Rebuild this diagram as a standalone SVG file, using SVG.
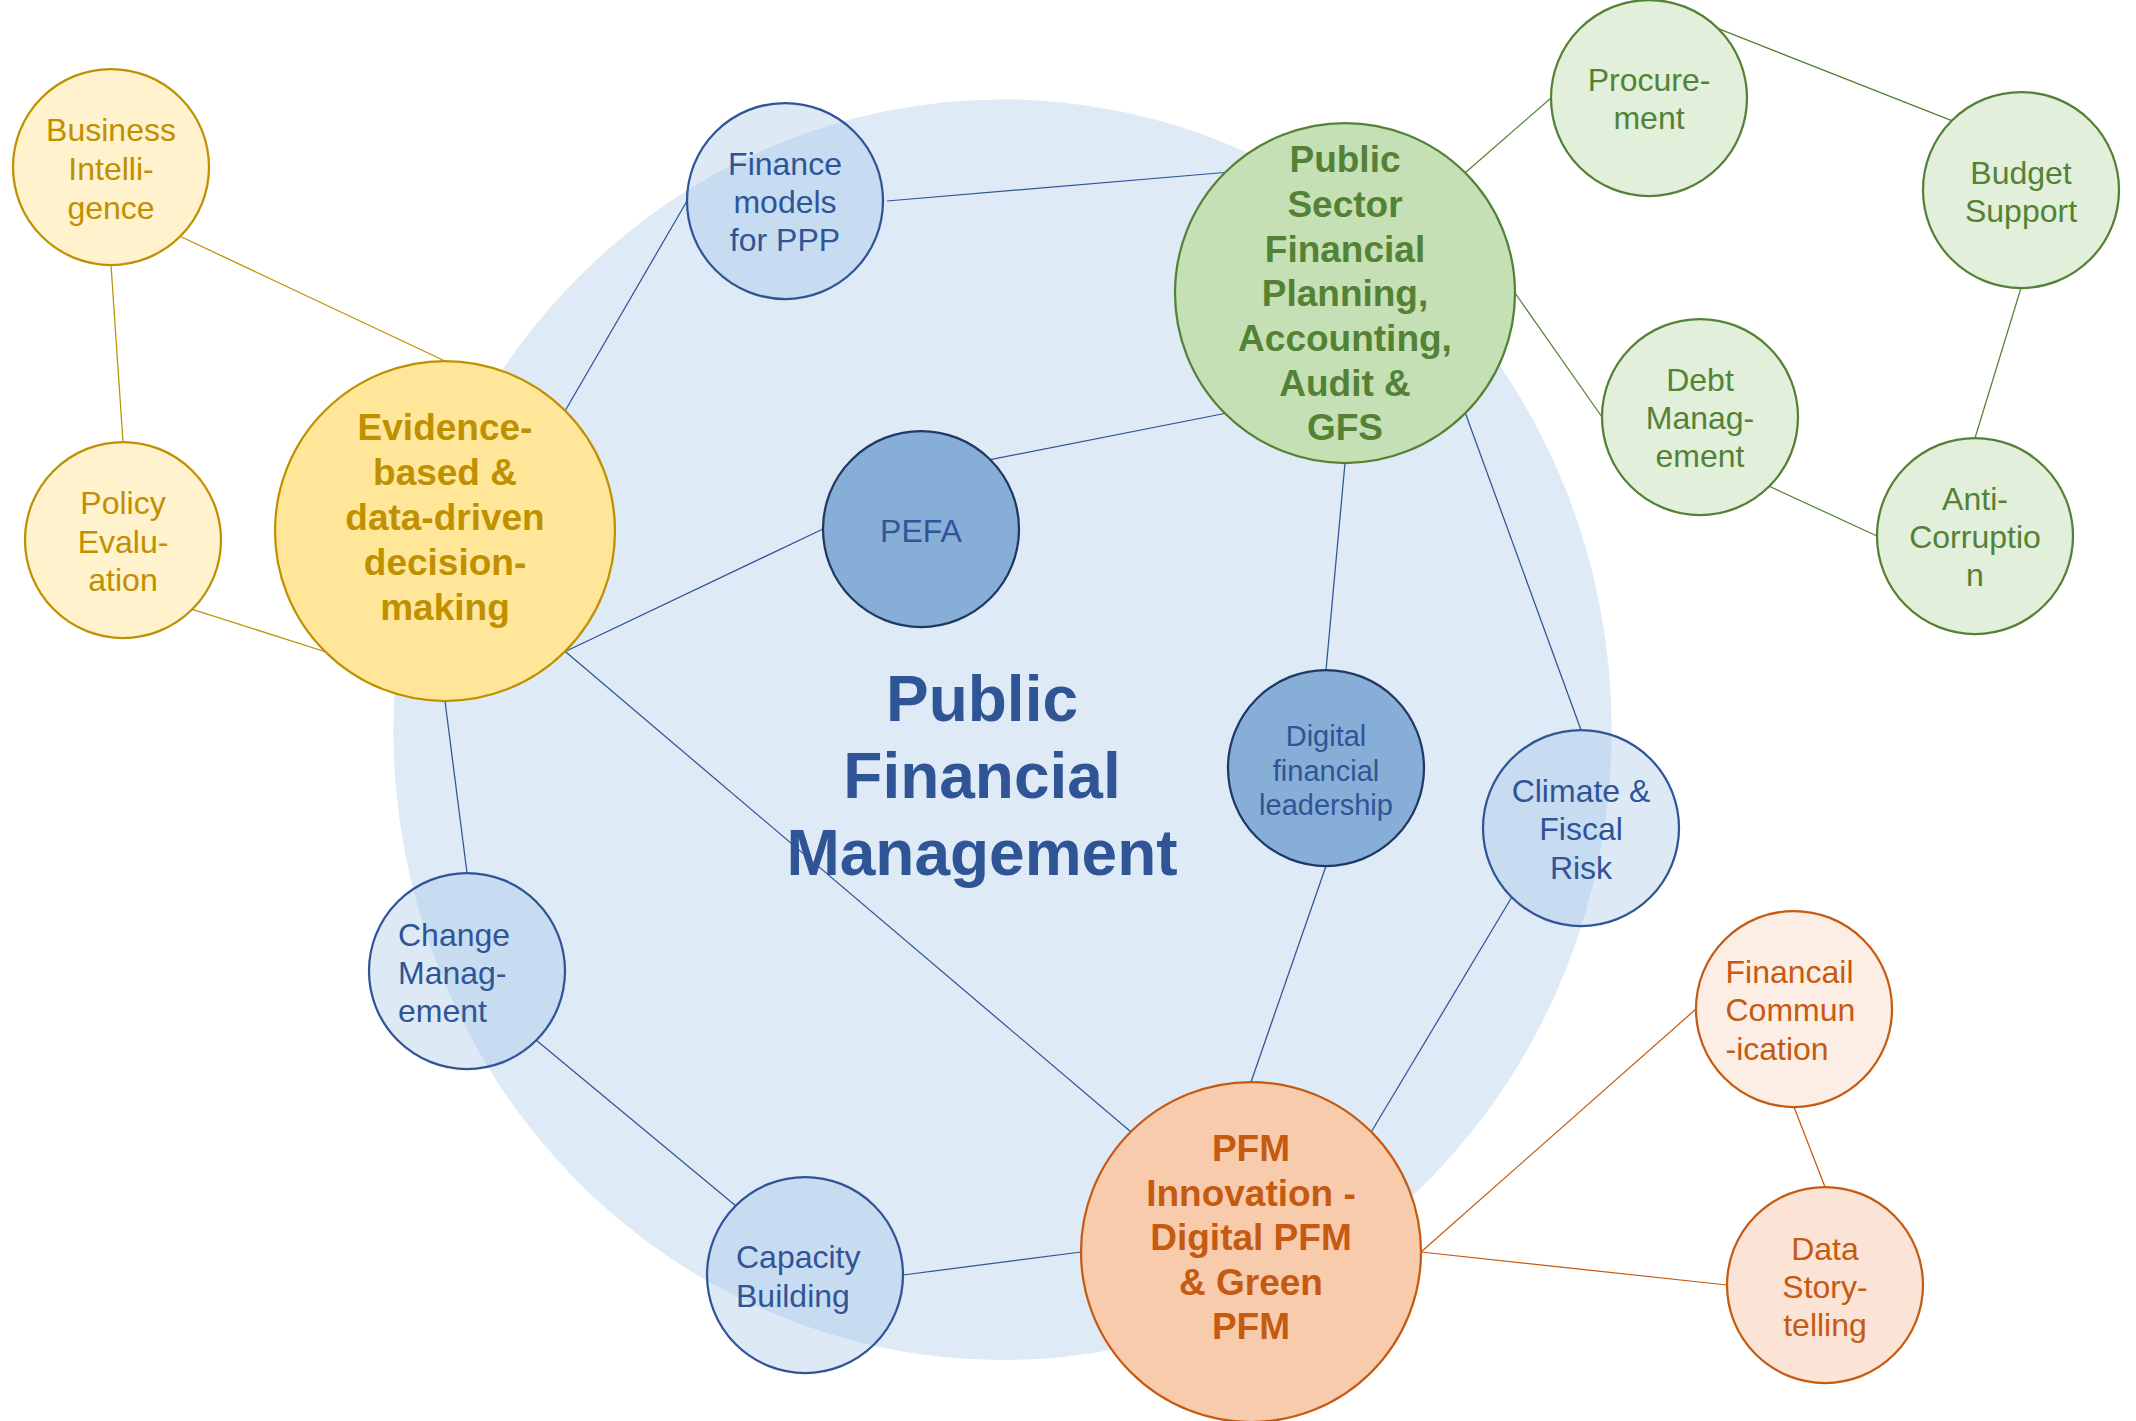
<svg xmlns="http://www.w3.org/2000/svg" width="2136" height="1421" viewBox="0 0 2136 1421">
<style>
text{font-family:"Liberation Sans",Arial,sans-serif}
.sm{font-size:32px}
.bg{font-size:37px;font-weight:bold}
.c{text-anchor:middle}
.l{text-anchor:start}
.tb{fill:#2F5597}
.ty{fill:#BF9000}
.tg{fill:#548235}
.to{fill:#C55A11}
.nb{fill:#9DC3E6;fill-opacity:0.35;stroke:#2F5597;stroke-width:2.25}
.nd{fill:#87AED6;stroke:#1F3864;stroke-width:2.25}
.ny{fill:#FFF2CC;stroke:#BF9000;stroke-width:2.25}
.nY{fill:#FFE699;stroke:#BF9000;stroke-width:2.25}
.ng{fill:#E2EFDA;stroke:#548235;stroke-width:2.25}
.nG{fill:#C5E0B4;stroke:#548235;stroke-width:2.25}
.no{fill:#F8CBAD;stroke:#C55A11;stroke-width:2.25}
.lb{stroke:#2F5597;stroke-width:1.25;fill:none}
.ly{stroke:#BF9000;stroke-width:1.25;fill:none}
.lg{stroke:#548235;stroke-width:1.25;fill:none}
.lo{stroke:#C55A11;stroke-width:1.25;fill:none}
</style>
<rect width="2136" height="1421" fill="#FFFFFF"/>
<g id="pfm-background">
<ellipse cx="1002.5" cy="729.7" rx="609.2" ry="630.3" fill="#DEEAF6"/>
<text x="982" y="721" class="c tb" style="font-size:64px;font-weight:bold">Public</text>
<text x="982" y="798" class="c tb" style="font-size:64px;font-weight:bold">Financial</text>
<text x="982" y="875" class="c tb" style="font-size:64px;font-weight:bold">Management</text>
</g>
<g id="connectors">
<line class="ly" x1="181.6" y1="237" x2="445" y2="361"/>
<line class="ly" x1="111" y1="265" x2="123" y2="442"/>
<line class="ly" x1="192.3" y1="609.3" x2="324.5" y2="651.5"/>
<line class="lb" x1="687" y1="201" x2="565.3" y2="410.5"/>
<line class="lb" x1="887" y1="201" x2="1224.5" y2="172.5"/>
<line class="lb" x1="565.3" y1="651.5" x2="823" y2="529"/>
<line class="lb" x1="565.3" y1="651.5" x2="1130.5" y2="1131.5"/>
<line class="lb" x1="445" y1="701" x2="467" y2="873"/>
<line class="lb" x1="536.3" y1="1040.3" x2="735.7" y2="1205.7"/>
<line class="lb" x1="903" y1="1275" x2="1081" y2="1252"/>
<line class="lb" x1="990.3" y1="459.7" x2="1224.5" y2="413.5"/>
<line class="lb" x1="1345" y1="463" x2="1326" y2="670"/>
<line class="lb" x1="1465.5" y1="413.5" x2="1581" y2="730"/>
<line class="lb" x1="1326" y1="866" x2="1251" y2="1082"/>
<line class="lb" x1="1511.7" y1="897.3" x2="1371.5" y2="1131.5"/>
<line class="lg" x1="1465.5" y1="172.5" x2="1551" y2="98"/>
<line class="lg" x1="1718.3" y1="28.7" x2="1951.7" y2="120.7"/>
<line class="lg" x1="1515" y1="293" x2="1602" y2="417"/>
<line class="lg" x1="2021" y1="288" x2="1975" y2="438"/>
<line class="lg" x1="1769.3" y1="486.3" x2="1877" y2="536"/>
<line class="lo" x1="1421" y1="1252" x2="1696" y2="1009"/>
<line class="lo" x1="1421" y1="1252" x2="1727" y2="1285"/>
<line class="lo" x1="1794" y1="1107" x2="1825" y2="1187"/>
</g>
<g id="node-business-intelligence">
<circle class="ny" cx="111" cy="167" r="98"/>
<text class="sm c ty" x="111" y="141">Business</text>
<text class="sm c ty" x="111" y="180">Intelli-</text>
<text class="sm c ty" x="111" y="218.5">gence</text>
</g>
<g id="node-policy-evaluation">
<circle class="ny" cx="123" cy="540" r="98"/>
<text class="sm c ty" x="123" y="514">Policy</text>
<text class="sm c ty" x="123" y="552.5">Evalu-</text>
<text class="sm c ty" x="123" y="591">ation</text>
</g>
<g id="node-evidence">
<circle class="nY" cx="445" cy="531" r="170"/>
<text class="bg c ty" x="445" y="440">Evidence-</text>
<text class="bg c ty" x="445" y="485">based &amp;</text>
<text class="bg c ty" x="445" y="530">data-driven</text>
<text class="bg c ty" x="445" y="574.5">decision-</text>
<text class="bg c ty" x="445" y="619.5">making</text>
</g>
<g id="node-finance-models">
<circle class="nb" cx="785" cy="201" r="98"/>
<text class="sm c tb" x="785" y="174.5">Finance</text>
<text class="sm c tb" x="785" y="213">models</text>
<text class="sm c tb" x="785" y="251">for PPP</text>
</g>
<g id="node-psfp">
<circle class="nG" cx="1345" cy="293" r="170"/>
<text class="bg c tg" x="1345" y="172">Public</text>
<text class="bg c tg" x="1345" y="216.5">Sector</text>
<text class="bg c tg" x="1345" y="261.5">Financial</text>
<text class="bg c tg" x="1345" y="306">Planning,</text>
<text class="bg c tg" x="1345" y="351">Accounting,</text>
<text class="bg c tg" x="1345" y="395.5">Audit &amp;</text>
<text class="bg c tg" x="1345" y="440">GFS</text>
</g>
<g id="node-pefa">
<circle class="nd" cx="921" cy="529" r="98"/>
<text class="sm c tb" x="921" y="542">PEFA</text>
</g>
<g id="node-procurement">
<circle class="ng" cx="1649" cy="98" r="98"/>
<text class="sm c tg" x="1649" y="90.5">Procure-</text>
<text class="sm c tg" x="1649" y="129">ment</text>
</g>
<g id="node-budget-support">
<circle class="ng" cx="2021" cy="190" r="98"/>
<text class="sm c tg" x="2021" y="183.5">Budget</text>
<text class="sm c tg" x="2021" y="222">Support</text>
</g>
<g id="node-debt-management">
<circle class="ng" cx="1700" cy="417" r="98"/>
<text class="sm c tg" x="1700" y="390.5">Debt</text>
<text class="sm c tg" x="1700" y="428.5">Manag-</text>
<text class="sm c tg" x="1700" y="466.5">ement</text>
</g>
<g id="node-anti-corruption">
<circle class="ng" cx="1975" cy="536" r="98"/>
<text class="sm c tg" x="1975" y="509.5">Anti-</text>
<text class="sm c tg" x="1975" y="548">Corruptio</text>
<text class="sm c tg" x="1975" y="586">n</text>
</g>
<g id="node-digital-leadership">
<circle class="nd" cx="1326" cy="768" r="98"/>
<text class="c tb" style="font-size:29px" x="1326" y="746">Digital</text>
<text class="c tb" style="font-size:29px" x="1326" y="780.5">financial</text>
<text class="c tb" style="font-size:29px" x="1326" y="814.5">leadership</text>
</g>
<g id="node-climate">
<circle class="nb" cx="1581" cy="828" r="98"/>
<text class="sm c tb" x="1581" y="802">Climate &amp;</text>
<text class="sm c tb" x="1581" y="840">Fiscal</text>
<text class="sm c tb" x="1581" y="878.5">Risk</text>
</g>
<g id="node-change-management">
<circle class="nb" cx="467" cy="971" r="98"/>
<text class="sm l tb" x="398" y="946">Change</text>
<text class="sm l tb" x="398" y="984">Manag-</text>
<text class="sm l tb" x="398" y="1022">ement</text>
</g>
<g id="node-capacity-building">
<circle class="nb" cx="805" cy="1275" r="98"/>
<text class="sm l tb" x="736" y="1268">Capacity</text>
<text class="sm l tb" x="736" y="1307">Building</text>
</g>
<g id="node-pfm-innovation">
<circle class="no" cx="1251" cy="1252" r="170"/>
<text class="bg c to" x="1251" y="1161">PFM</text>
<text class="bg c to" x="1251" y="1206">Innovation -</text>
<text class="bg c to" x="1251" y="1250">Digital PFM</text>
<text class="bg c to" x="1251" y="1294.5">&amp; Green</text>
<text class="bg c to" x="1251" y="1339">PFM</text>
</g>
<g id="node-financial-communication">
<circle cx="1794" cy="1009" r="98" fill="#FCEEE5" stroke="#C55A11" stroke-width="2.25"/>
<text class="sm l to" x="1725.5" y="983">Financail</text>
<text class="sm l to" x="1725.5" y="1021">Commun</text>
<text class="sm l to" x="1725.5" y="1059.5">-ication</text>
</g>
<g id="node-data-storytelling">
<circle cx="1825" cy="1285" r="98" fill="#FBE3D5" stroke="#C55A11" stroke-width="2.25"/>
<text class="sm c to" x="1825" y="1260">Data</text>
<text class="sm c to" x="1825" y="1298">Story-</text>
<text class="sm c to" x="1825" y="1336">telling</text>
</g>
</svg>
